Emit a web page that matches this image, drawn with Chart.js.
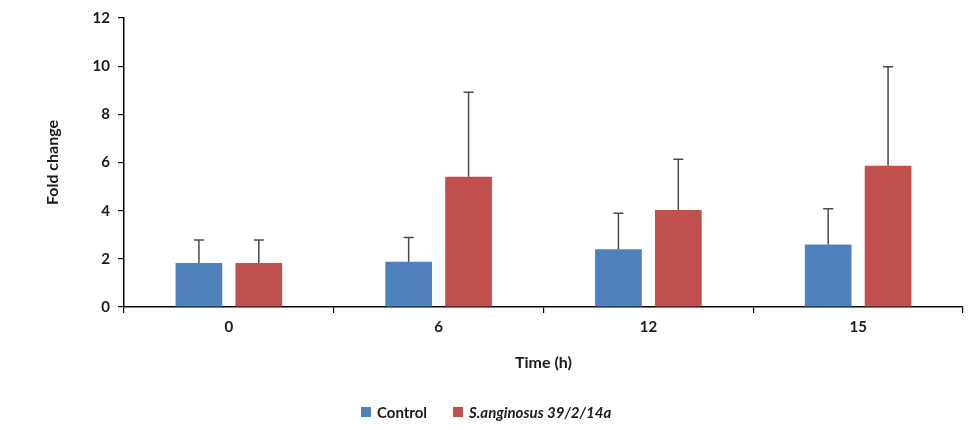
<!DOCTYPE html>
<html>
<head>
<meta charset="utf-8">
<script src="https://cdn.jsdelivr.net/npm/chart.js@4.4.1/dist/chart.umd.min.js"></script>
<style>
  html, body { margin: 0; padding: 0; background: #fff; }
  #wrap { width: 969px; height: 430px; position: relative; }
</style>
</head>
<body>
<div id="wrap"><canvas id="c"></canvas></div>
<script>
// Sampling times (hours)
const categories = ['0', '6', '12', '15'];

// Mean fold change and standard deviation per group
const controlMean = [1.83, 1.88, 2.40, 2.59];
const controlSD   = [0.95, 1.01, 1.49, 1.49];
const sangMean    = [1.83, 5.41, 4.03, 5.87];
const sangSD      = [0.95, 3.51, 2.10, 4.11];

const yTicks = [0, 2, 4, 6, 8, 10, 12];

const FONT = 'Lato, "Open Sans", sans-serif';
const BLUE = '#4F81BD';
const RED = '#C0504D';

// Upper-only error bars with a cap, drawn from each bar's own position
const errorBars = {
  id: 'errorBars',
  afterDatasetsDraw(chart) {
    const ctx = chart.ctx;
    const y = chart.scales.y;
    ctx.save();
    ctx.strokeStyle = '#4a4a4a';
    ctx.lineWidth = 1.5;
    chart.data.datasets.forEach((ds, di) => {
      const meta = chart.getDatasetMeta(di);
      meta.data.forEach((bar, i) => {
        const top = y.getPixelForValue(ds.data[i] + ds.sd[i]);
        const base = y.getPixelForValue(ds.data[i]);
        ctx.beginPath();
        ctx.moveTo(bar.x, base);
        ctx.lineTo(bar.x, top);
        ctx.moveTo(bar.x - 5, top);
        ctx.lineTo(bar.x + 5, top);
        ctx.stroke();
      });
    });
    ctx.restore();
  }
};

// Legend below the axis title; second entry is an italic species name
const bottomLegend = {
  id: 'bottomLegend',
  afterDraw(chart) {
    const ctx = chart.ctx;
    const items = chart.data.datasets.map((ds, i) => ({
      text: ds.label, color: ds.backgroundColor, italic: i === 1
    }));
    const box = 10, gapBox = 6, gapItem = 26;
    const fontOf = it => (it.italic ? 'italic ' : '') + 'bold 15px ' + FONT;
    ctx.save();
    ctx.textBaseline = 'middle';
    const widths = items.map(it => {
      ctx.font = fontOf(it);
      return box + gapBox + ctx.measureText(it.text).width;
    });
    const total = widths.reduce((a, b) => a + b, 0) + gapItem * (items.length - 1);
    let x = Math.round(486 - total / 2);
    const yc = 412;
    items.forEach((it, i) => {
      ctx.fillStyle = it.color;
      ctx.fillRect(x, yc - box / 2, box, box);
      ctx.fillStyle = '#1a1a1a';
      ctx.font = fontOf(it);
      ctx.fillText(it.text, x + box + gapBox, yc + 1);
      x += widths[i] + gapItem;
    });
    ctx.restore();
  }
};

new Chart(document.getElementById('c'), {
  type: 'bar',
  data: {
    labels: categories,
    datasets: [
      { label: 'Control', data: controlMean, sd: controlSD, backgroundColor: BLUE },
      { label: 'S.anginosus 39/2/14a', data: sangMean, sd: sangSD, backgroundColor: RED }
    ]
  },
  options: {
    responsive: true,
    maintainAspectRatio: false,
    animation: false,
    devicePixelRatio: 1,
    layout: { padding: { left: 0, right: 6, top: 18, bottom: 0 } },
    datasets: { bar: { categoryPercentage: 0.571, barPercentage: 0.78 } },
    plugins: {
      legend: { display: false },
      tooltip: { enabled: false }
    },
    scales: {
      x: {
        offset: true,
        grid: { offset: true, drawOnChartArea: false, drawTicks: true, tickLength: 6, color: '#000', lineWidth: 1.2 },
        border: { color: '#000', width: 1.5 },
        ticks: { color: '#1a1a1a', font: { family: FONT, size: 15, weight: 'bold' }, padding: 5 },
        title: { display: true, text: 'Time (h)', color: '#1a1a1a', font: { family: FONT, size: 16, weight: 'bold' }, padding: { top: 0, bottom: 58 } },
        afterFit(s) { s.height = 123; }
      },
      y: {
        min: 0, max: 12,
        afterBuildTicks(s) { s.ticks = yTicks.map(v => ({ value: v })); },
        grid: { drawOnChartArea: false, drawTicks: true, tickLength: 6, color: '#000', lineWidth: 1.2 },
        border: { color: '#000', width: 1.5 },
        ticks: { color: '#1a1a1a', font: { family: FONT, size: 15, weight: 'bold' }, padding: 8 },
        title: { display: true, text: 'Fold change', color: '#1a1a1a', font: { family: FONT, size: 16, weight: 'bold' }, padding: { top: 43, bottom: 0 } },
        afterFit(s) { s.width = 124; }
      }
    }
  },
  plugins: [errorBars, bottomLegend]
});
</script>
</body>
</html>
